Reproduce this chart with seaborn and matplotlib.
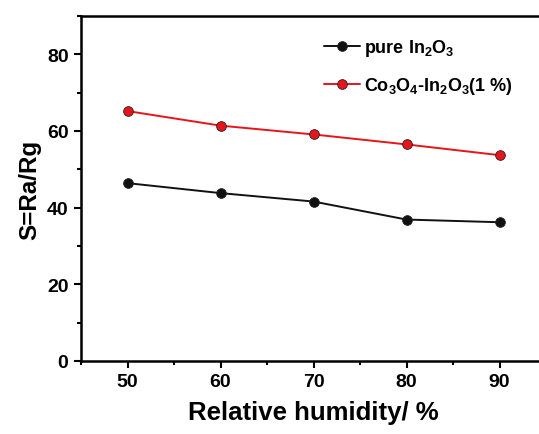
#!/usr/bin/env python3

import pandas as pd
import matplotlib
matplotlib.use("Agg")
import matplotlib.pyplot as plt
from matplotlib.ticker import MultipleLocator
import seaborn as sns

humidity = [50, 60, 70, 80, 90]
pure = [46.4, 43.8, 41.6, 36.9, 36.2]
doped = [65.2, 61.4, 59.1, 56.5, 53.7]
labels = ['pure In$_2$O$_3$', 'Co$_3$O$_4$-In$_2$O$_3$(1 %)']
colors = ['#111111', '#e8141b']


def plot_sensitivity():
    '''Response vs relative humidity for the two sensors.'''
    df = pd.DataFrame({
        'RH': humidity * 2,
        'S': pure + doped,
        'Sample': [labels[0]] * 5 + [labels[1]] * 5,
    })

    sns.set_style("white")
    plt.rcParams['font.family'] = ['Liberation Sans', 'DejaVu Sans']
    plt.rcParams['font.weight'] = 'bold'
    plt.rcParams['text.color'] = 'black'
    plt.rcParams['axes.labelcolor'] = 'black'
    plt.rcParams['xtick.color'] = 'black'
    plt.rcParams['ytick.color'] = 'black'
    plt.rcParams['mathtext.fontset'] = 'custom'
    plt.rcParams['mathtext.rm'] = 'Liberation Sans:bold'
    plt.rcParams['mathtext.it'] = 'Liberation Sans:bold'
    plt.rcParams['mathtext.bf'] = 'Liberation Sans:bold'
    plt.rcParams['mathtext.default'] = 'rm'

    fig = plt.figure(figsize=(5.39, 4.35), dpi=100)
    ax = fig.add_axes([81 / 539, 73 / 435, 465 / 539, 345 / 435])

    sns.lineplot(
            data=df,
            x='RH',
            y='S',
            hue='Sample',
            palette=colors,
            marker='o',
            markersize=7,
            markeredgecolor='#222222',
            markeredgewidth=0.6,
            linewidth=1.4,
            ax=ax
            )

    ax.set(xlim=(45, 95), ylim=(0, 90))
    ax.set_xticks([50, 60, 70, 80, 90])
    ax.set_yticks([0, 20, 40, 60, 80])
    ax.xaxis.set_minor_locator(MultipleLocator(5))
    ax.yaxis.set_minor_locator(MultipleLocator(10))
    ax.tick_params(which='both', direction='out', bottom=True, left=True,
                   top=False, right=False, width=1.5, labelsize=14)
    ax.tick_params(which='major', length=5, pad=4)
    ax.tick_params(which='minor', length=3)
    for sp in ax.spines.values():
        sp.set_linewidth(1.8)
        sp.set_color('black')

    ax.set_xlabel('Relative humidity/ %', fontsize=18.5, fontweight='bold',
                  labelpad=7)
    ax.set_ylabel('S=Ra/Rg', fontsize=17.5, fontweight='bold', labelpad=4)

    ax.legend(title=None, frameon=False, fontsize=13, handlelength=2.0,
              handletextpad=0.2, labelspacing=0.95, loc='upper left',
              bbox_to_anchor=(308 / 539, 1 - 22 / 435),
              bbox_transform=fig.transFigure)

    fig.savefig('out.png', dpi=100)


if __name__ == "__main__":
    plot_sensitivity()
